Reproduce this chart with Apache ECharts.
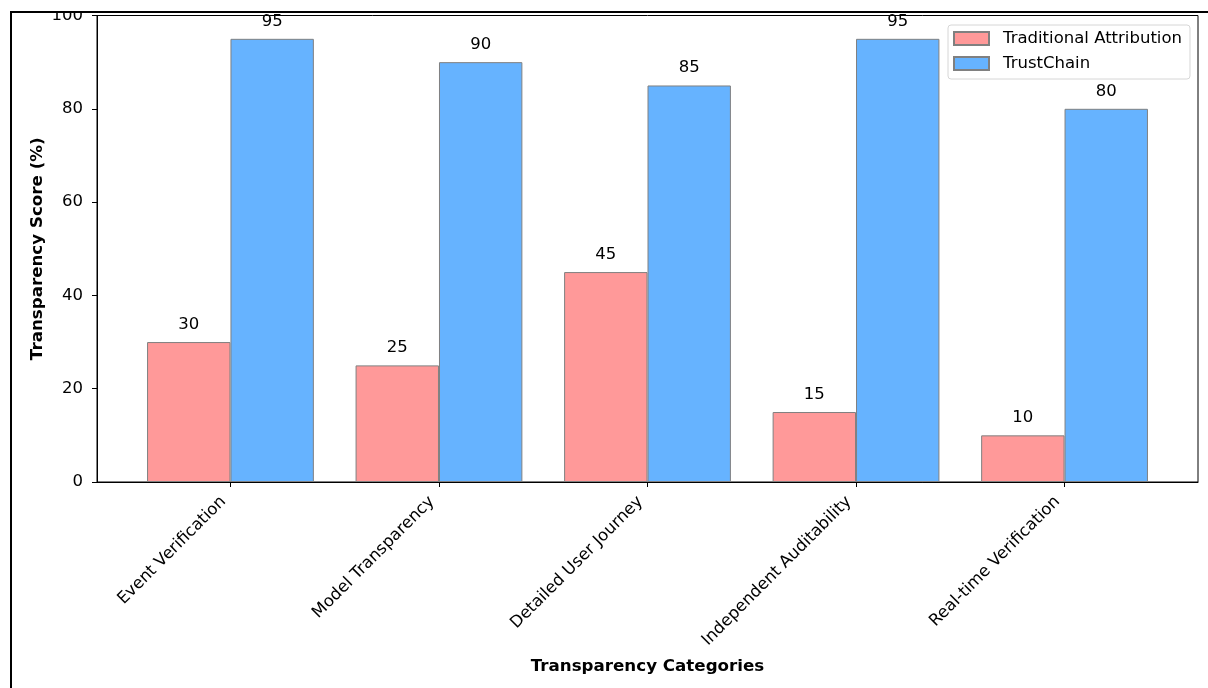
<!DOCTYPE html>
<html>
<head>
<meta charset="utf-8">
<script src="https://cdn.jsdelivr.net/npm/echarts@6/dist/echarts.min.js"></script>
<style>
  html, body { margin: 0; padding: 0; background: #fff; }
  #chart { width: 1208px; height: 688px; }
</style>
</head>
<body>
<div id="chart"></div>
<script>
// chart data
const categories = ['Event Verification', 'Model Transparency', 'Detailed User Journey', 'Independent Auditability', 'Real-time Verification']
const traditional = [30, 25, 45, 15, 10]
const trustChain = [95, 90, 85, 95, 80]
const yTicks = [0, 20, 40, 60, 80, 100]

const font = 'DejaVu Sans'
const fs = 16.5
const positions = categories.map((c, i) => i)

function pairs (values) {
  return values.map((v, i) => [i, v])
}

const chart = echarts.init(document.getElementById('chart'))
chart.setOption({
  animation: false,
  textStyle: { fontFamily: font },
  grid: {
    left: 97,
    right: 10,
    top: 15.5,
    bottom: 206,
    show: true,
    borderColor: '#000',
    borderWidth: 1,
    backgroundColor: 'transparent'
  },
  legend: {
    orient: 'vertical',
    left: 948,
    top: 25,
    padding: [4, 8, 6, 5],
    itemGap: 6,
    itemWidth: 35,
    itemHeight: 13,
    icon: 'rect',
    borderColor: '#d6d6d6',
    borderWidth: 1,
    borderRadius: 3,
    textStyle: { fontSize: fs, color: '#000', lineHeight: 19, padding: [0, 0, 0, 9], fontFamily: font },
    data: ['Traditional Attribution', 'TrustChain']
  },
  xAxis: {
    type: 'value',
    min: -0.64,
    max: 4.64,
    name: 'Transparency Categories',
    nameLocation: 'middle',
    nameGap: 176,
    nameMoveOverlap: false,
    nameTextStyle: { fontWeight: 'bold', fontSize: 16.7, color: '#000', fontFamily: font },
    splitLine: { show: false },
    axisLine: { show: true, onZero: false, lineStyle: { color: '#000', width: 1 } },
    axisTick: { show: true, customValues: positions, length: 5, lineStyle: { color: '#000' } },
    axisLabel: {
      customValues: positions,
      rotate: 45,
      fontSize: fs,
      color: '#000',
      margin: 10,
      padding: [0, 10, 0, 0],
      formatter: function (value) {
        return categories[Math.round(value)]
      }
    }
  },
  yAxis: {
    type: 'value',
    min: 0,
    max: 100,
    interval: 20,
    name: 'Transparency Score (%)',
    nameLocation: 'middle',
    nameGap: 51,
    nameMoveOverlap: false,
    nameTextStyle: { fontWeight: 'bold', fontSize: 16.7, color: '#000', fontFamily: font },
    splitLine: { show: false },
    axisLine: { show: true, onZero: false, lineStyle: { color: '#000', width: 1 } },
    axisTick: { show: true, length: 5, lineStyle: { color: '#000' } },
    axisLabel: {
      fontSize: fs,
      color: '#000',
      margin: 14,
      formatter: function (value) {
        return yTicks.indexOf(value) >= 0 ? String(value) : ''
      }
    }
  },
  series: [
    {
      name: 'Traditional Attribution',
      type: 'bar',
      barWidth: 83.4,
      barGap: '0%',
      data: pairs(traditional),
      itemStyle: { color: '#ff9999', borderColor: '#808080', borderWidth: 1 },
      label: { show: true, position: 'top', distance: 9, fontSize: fs, color: '#000' }
    },
    {
      name: 'TrustChain',
      type: 'bar',
      barWidth: 83.4,
      barGap: '0%',
      data: pairs(trustChain),
      itemStyle: { color: '#66b3ff', borderColor: '#808080', borderWidth: 1 },
      label: { show: true, position: 'top', distance: 9, fontSize: fs, color: '#000' }
    }
  ],
  graphic: [
    // cropped-screenshot frame: white strip on top plus the black border lines
    { type: 'rect', z: 100, shape: { x: 0, y: 0, width: 1208, height: 11 }, style: { fill: '#fff' } },
    { type: 'line', z: 101, shape: { x1: 10, y1: 12, x2: 1208, y2: 12 }, style: { stroke: '#000', lineWidth: 2 } },
    { type: 'line', z: 101, shape: { x1: 11, y1: 11, x2: 11, y2: 688 }, style: { stroke: '#000', lineWidth: 2 } }
  ]
})
</script>
</body>
</html>
